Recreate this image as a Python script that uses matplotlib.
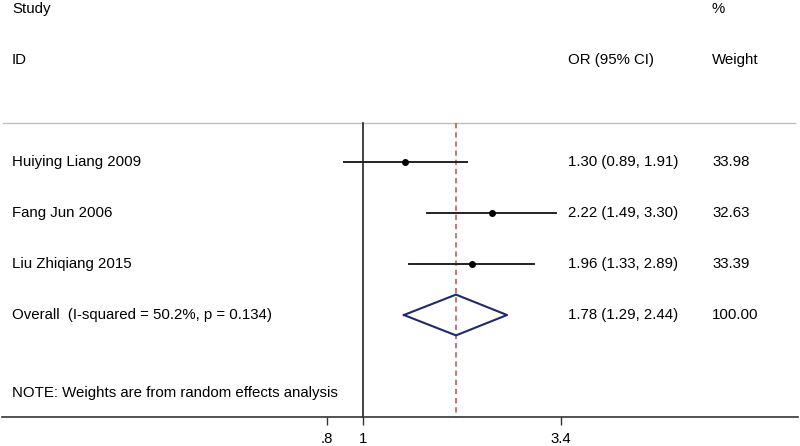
import numpy as np
import matplotlib
matplotlib.use('Agg')
from matplotlib import pyplot as plt
import matplotlib.transforms as mtransforms

plt.rcParams['font.family'] = ['Liberation Sans', 'DejaVu Sans']

studies = ['Huiying Liang 2009', 'Fang Jun 2006', 'Liu Zhiqiang 2015']
or_est = [1.30, 2.22, 1.96]
ci_low = [0.89, 1.49, 1.33]
ci_high = [1.91, 3.30, 2.89]
weights = ['33.98', '32.63', '33.39']
overall_label = 'Overall  (I-squared = 50.2%, p = 0.134)'
overall = [1.78, 1.29, 2.44]
overall_weight = '100.00'
tick_vals = [0.8, 1, 3.4]
tick_labels = ['.8', '1', '3.4']

fig = plt.figure(figsize=(8, 4.46), dpi=100)
ax = fig.add_axes([0, 0, 1, 1])
ax.set_xscale('log')
ax.set_xlim(0.1063, 14.92)
ax.set_ylim(5.57, -3.18)

n = len(studies)
rows = np.arange(n)
row_overall = n
row_note = n + 1.53
row_axis = n + 2.0
row_sep = -0.77

tr = mtransforms.blended_transform_factory(ax.transAxes, ax.transData)
fs = 10.8
col_study = 12 / 800
col_or = 568 / 800
col_w = 712 / 800

# headers
ax.text(col_study, -3, 'Study', transform=tr, fontsize=fs, va='center')
ax.text(col_study, -2, 'ID', transform=tr, fontsize=fs, va='center')
ax.text(col_or, -2, 'OR (95% CI)', transform=tr, fontsize=fs, va='center')
ax.text(col_w, -3, '%', transform=tr, fontsize=fs, va='center')
ax.text(col_w, -2, 'Weight', transform=tr, fontsize=fs, va='center')

# separator
ax.plot([0.004, 0.994], [row_sep, row_sep], transform=tr, color='#bdbdbd', lw=1)

# null line and overall line
ax.plot([1, 1], [row_sep, row_axis], color='#222222', lw=1.2)
ax.plot([overall[0], overall[0]], [row_sep, row_axis], color='#c0504d',
        lw=1.1, ls=(0, (3.5, 2.5)))

# studies
for i, name in enumerate(studies):
    ax.plot([ci_low[i], ci_high[i]], [rows[i], rows[i]], color='#222222', lw=1.4)
    ax.plot(or_est[i], rows[i], 'o', color='black', ms=4)
    ax.text(col_study, rows[i], name, transform=tr, fontsize=fs, va='center')
    ax.text(col_or, rows[i], '{:.2f} ({:.2f}, {:.2f})'.format(or_est[i], ci_low[i], ci_high[i]),
            transform=tr, fontsize=fs, va='center')
    ax.text(col_w, rows[i], weights[i], transform=tr, fontsize=fs, va='center')

# overall diamond
dx = [overall[1], overall[0], overall[2], overall[0], overall[1]]
dy = [row_overall, row_overall - 0.4, row_overall, row_overall + 0.4, row_overall]
ax.plot(dx, dy, color='#1f2a6e', lw=1.5)
ax.text(col_study, row_overall, overall_label, transform=tr, fontsize=fs, va='center')
ax.text(col_or, row_overall, '{:.2f} ({:.2f}, {:.2f})'.format(*overall),
        transform=tr, fontsize=fs, va='center')
ax.text(col_w, row_overall, overall_weight, transform=tr, fontsize=fs, va='center')

ax.text(col_study, row_note, 'NOTE: Weights are from random effects analysis',
        transform=tr, fontsize=fs, va='center')

# axis
for s in ['top', 'left', 'right']:
    ax.spines[s].set_visible(False)
ax.spines['bottom'].set_position(('data', row_axis))
ax.spines['bottom'].set_bounds(0.1075, 14.7)
ax.spines['bottom'].set_color('#333333')
ax.spines['bottom'].set_linewidth(1.2)
ax.set_xticks(tick_vals)
ax.set_xticklabels(tick_labels)
ax.xaxis.set_minor_locator(matplotlib.ticker.NullLocator())
ax.tick_params(axis='x', direction='out', length=6, width=1, color='#333333',
               labelsize=fs, pad=5)
ax.set_yticks([])
ax.patch.set_alpha(0)

fig.savefig('out.png', dpi=100, facecolor='white')
